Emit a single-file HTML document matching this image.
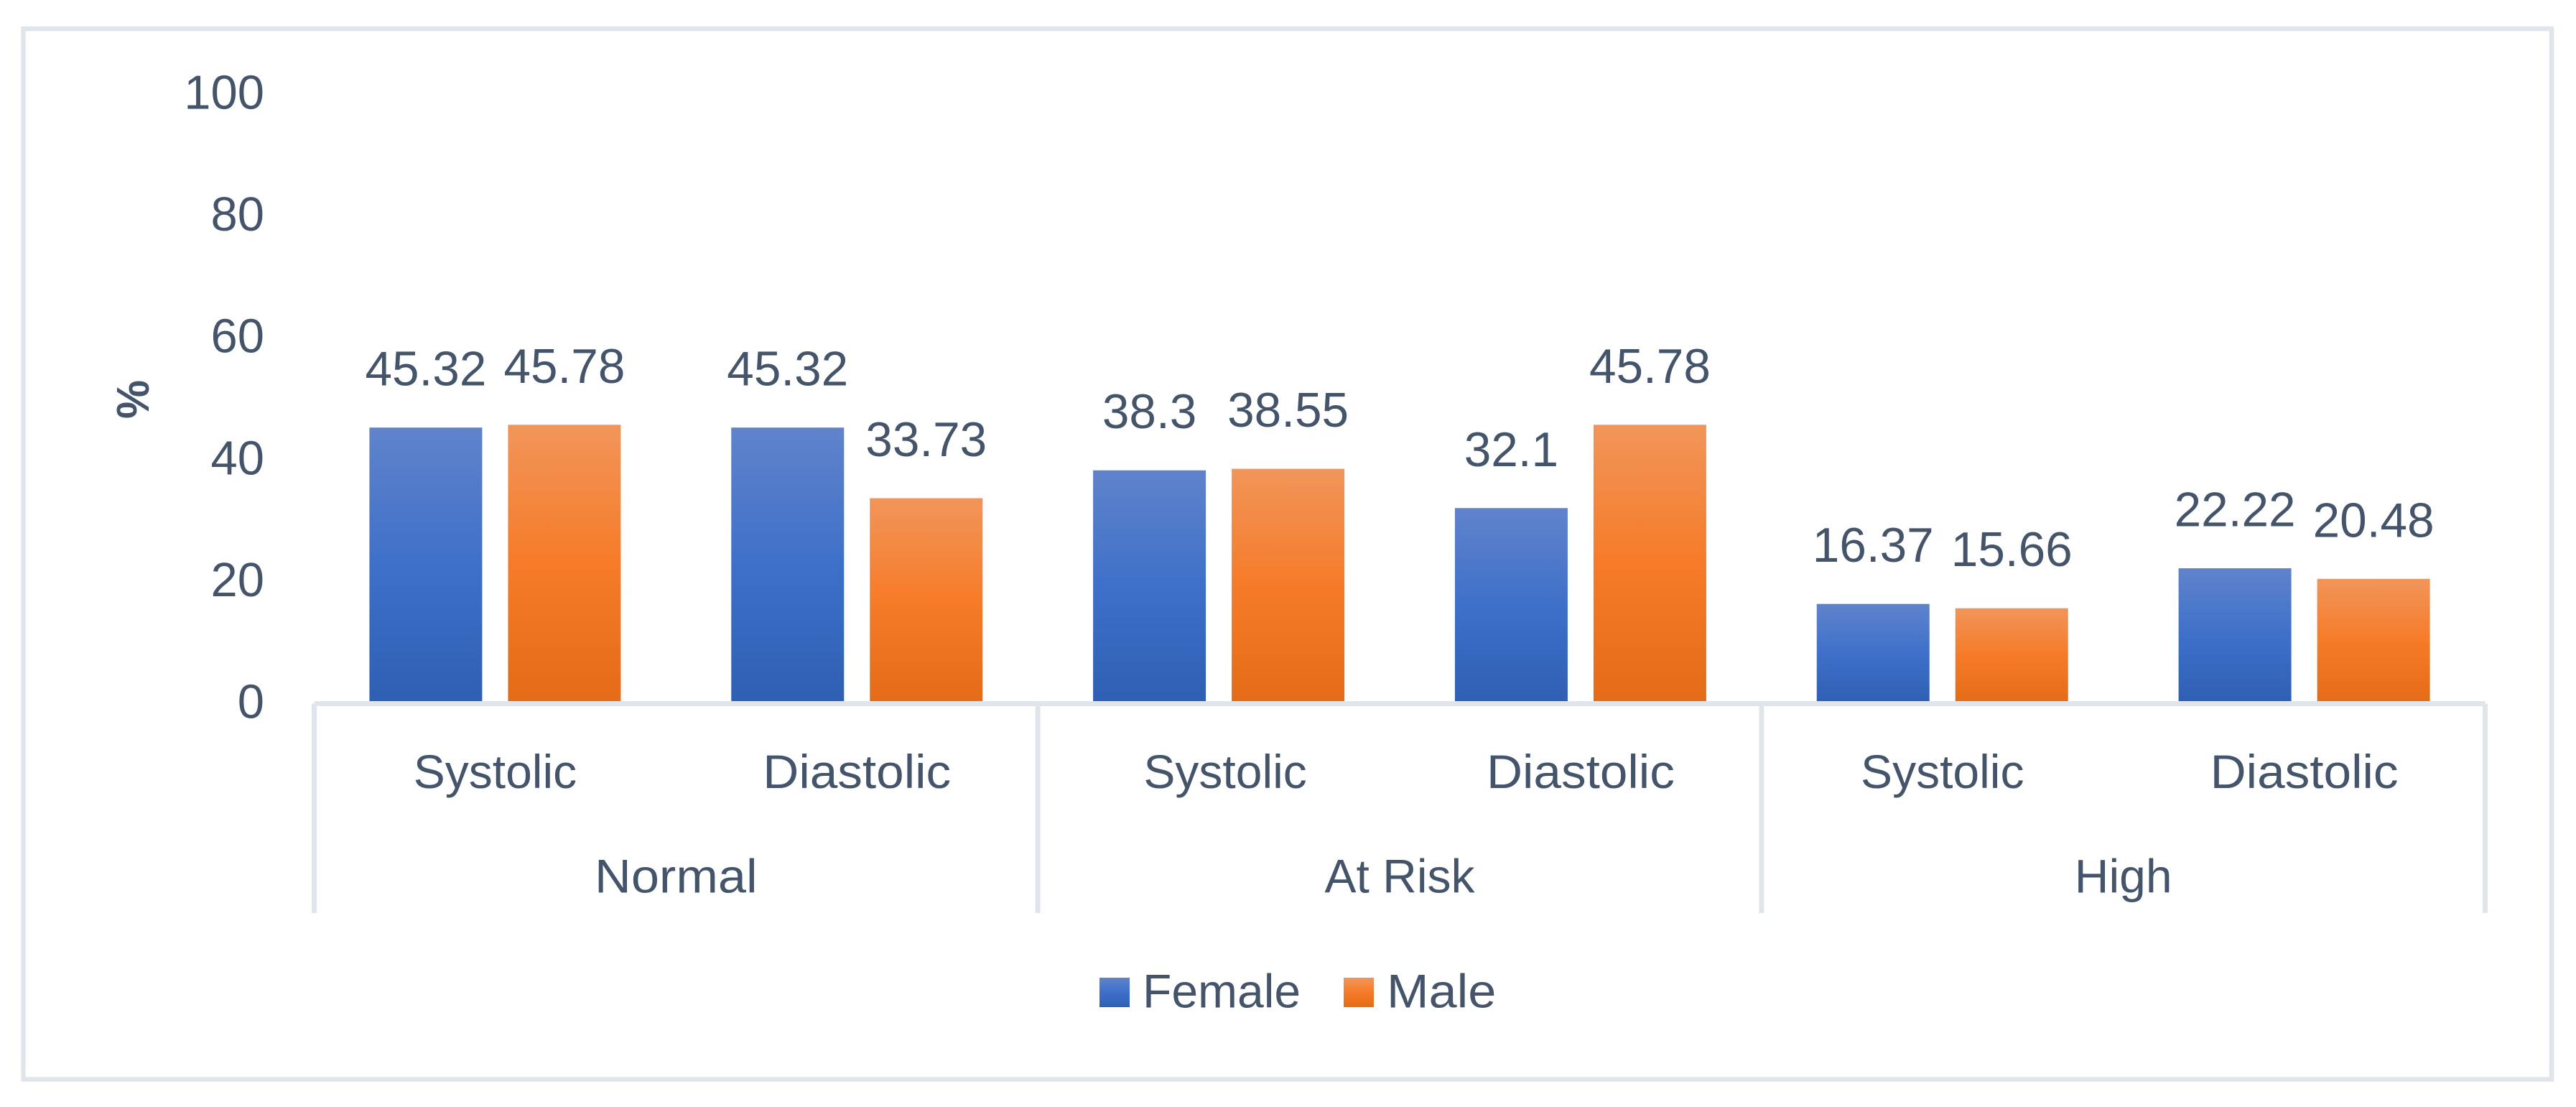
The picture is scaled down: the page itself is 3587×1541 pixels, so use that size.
<!DOCTYPE html>
<html lang="en">
<head>
<meta charset="utf-8">
<title>Blood pressure by sex</title>
<style>
html,body{margin:0;padding:0;background:#fff;}
svg{display:block;}
text{font-family:"Liberation Sans",sans-serif;fill:#44546a;}
</style>
</head>
<body>
<svg id="chart" xmlns="http://www.w3.org/2000/svg" width="3587" height="1541" viewBox="0 0 3587 1541">
  <defs>
    <linearGradient id="grad-female" x1="0" y1="0" x2="0" y2="1">
      <stop offset="0" stop-color="#6083cb"/>
      <stop offset="0.5" stop-color="#3e70ca"/>
      <stop offset="1" stop-color="#2e5fb3"/>
    </linearGradient>
    <linearGradient id="grad-male" x1="0" y1="0" x2="0" y2="1">
      <stop offset="0" stop-color="#f1955a"/>
      <stop offset="0.5" stop-color="#f67b28"/>
      <stop offset="1" stop-color="#e46c16"/>
    </linearGradient>
  </defs>
  <rect x="32.5" y="40" width="3520.5" height="1462.5" fill="#ffffff" stroke="#e0e5ec" stroke-width="6.5"/>
  <g id="bars"></g>
  <g id="axes"></g>
  <g id="labels"></g>
  <g id="legend"></g>
</svg>
<script>
const groups = ['Normal', 'At Risk', 'High'];
const categories = ['Systolic', 'Diastolic', 'Systolic', 'Diastolic', 'Systolic', 'Diastolic'];
const femaleValues = [45.32, 45.32, 38.3, 32.1, 16.37, 22.22];
const maleValues = [45.78, 33.73, 38.55, 45.78, 15.66, 20.48];
const yTicks = [0, 20, 40, 60, 80, 100];
const seriesNames = ['Female', 'Male'];

const NS = 'http://www.w3.org/2000/svg';
const barsLayer = document.getElementById('bars');
const axesLayer = document.getElementById('axes');
const labelsLayer = document.getElementById('labels');
const legendLayer = document.getElementById('legend');

const plotLeft = 437.5;
const plotRight = 3460.5;
const zeroY = 979.5;
const unitPx = 8.48;
const barWidth = 157;
const barGap = 36;
const lineColor = '#e0e5ec';
const widthStretch = {Diastolic: 1.05, Normal: 1.065, Male: 1.065};

function xBand(i) {
  return plotLeft + (i + 0.5) * (plotRight - plotLeft) / categories.length;
}
function yValue(v) {
  return zeroY - v * unitPx;
}
function make(tag, attrs, parent) {
  const el = document.createElementNS(NS, tag);
  for (const k in attrs) el.setAttribute(k, attrs[k]);
  parent.appendChild(el);
  return el;
}
function label(str, x, y, size, anchor, parent) {
  const t = make('text', {x: x, y: y, 'font-size': size, 'text-anchor': anchor}, parent);
  t.textContent = str;
  if (widthStretch[str]) {
    t.setAttribute('textLength', t.getComputedTextLength() * widthStretch[str]);
    t.setAttribute('lengthAdjust', 'spacingAndGlyphs');
  }
  return t;
}

categories.forEach(function (cat, i) {
  const c = xBand(i);
  const fy = yValue(femaleValues[i]);
  const my = yValue(maleValues[i]);

  const fb = make('rect', {x: c - barGap / 2 - barWidth, y: fy, width: barWidth, height: zeroY - fy, fill: 'url(#grad-female)'}, barsLayer);
  
  

  const mb = make('rect', {x: c + barGap / 2, y: my, width: barWidth, height: zeroY - my, fill: 'url(#grad-male)'}, barsLayer);
  
  

  const fl = label(String(femaleValues[i]), c - barGap / 2 - barWidth / 2, fy - 58.5, 67.5, 'middle', labelsLayer);
  
  

  const ml = label(String(maleValues[i]), c + barGap / 2 + barWidth / 2, my - 58.5, 67.5, 'middle', labelsLayer);
  
  

  const nudge = i === 2 ? 9 : 0;
  const cl = label(cat, c + nudge, 1097, 66, 'middle', labelsLayer);
  
  
});

const baseline = make('line', {x1: plotLeft, x2: plotRight, y1: zeroY, y2: zeroY, stroke: lineColor, 'stroke-width': 7}, axesLayer);



const groupWidth = (plotRight - plotLeft) / groups.length;
for (let g = 0; g <= groups.length; g++) {
  const x = plotLeft + g * groupWidth;
  const sep = make('line', {x1: x, x2: x, y1: zeroY, y2: 1271, stroke: lineColor, 'stroke-width': 7}, axesLayer);
  
  
}
groups.forEach(function (name, g) {
  const gl = label(name, plotLeft + (g + 0.5) * groupWidth, 1242.5, 66, 'middle', labelsLayer);
  
  
});

yTicks.forEach(function (v) {
  const tl = label(String(v), 368, yValue(v) + 20, 67, 'end', labelsLayer);
  
  
});

const yTitle = label('%', 0, 0, 64, 'middle', labelsLayer);
yTitle.setAttribute('transform', 'translate(207,556) rotate(-90)');
yTitle.setAttribute('font-weight', 'bold');
yTitle.setAttribute('textLength', '54');
yTitle.setAttribute('lengthAdjust', 'spacingAndGlyphs');



const legendSwatchX = [1531, 1871];
const legendTextX = [1591, 1931];
const legendFills = ['url(#grad-female)', 'url(#grad-male)'];
seriesNames.forEach(function (name, i) {
  const sw = make('rect', {x: legendSwatchX[i], y: 1361, width: 42, height: 41, fill: legendFills[i]}, legendLayer);
  
  
  const lt = label(name, legendTextX[i], 1402.5, 66, 'start', legendLayer);
  
  
});
</script>
</body>
</html>
